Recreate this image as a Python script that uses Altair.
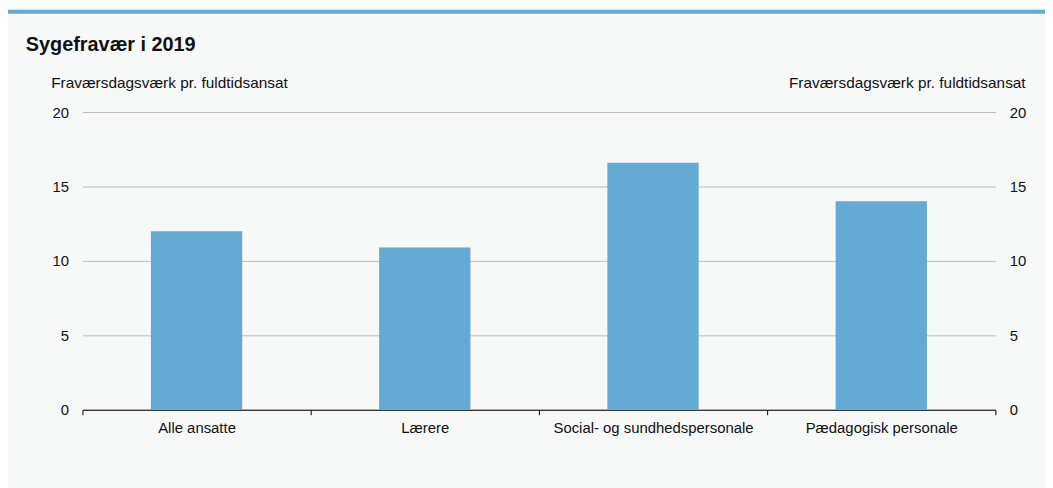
import altair as alt
import pandas as pd

categories = ["Alle ansatte", "Lærere", "Social- og sundhedspersonale", "Pædagogisk personale"]
values = [12.0, 10.9, 16.6, 14.0]
y_ticks = [0, 5, 10, 15, 20]
axis_title = "Fraværsdagsværk pr. fuldtidsansat"
chart_title = "Sygefravær i 2019"

BAR = "#64aad4"
BG = "#f7f8f8"
FONT = "Liberation Sans"

df = pd.DataFrame({"kategori": categories, "vaerdi": values})

x_enc = alt.X(
    "kategori:N",
    sort=categories,
    title=None,
    scale=alt.Scale(paddingInner=0, paddingOuter=0),
    axis=alt.Axis(
        labelAngle=0,
        tickBand="extent",
        tickSize=5,
        tickColor="#000000",
        domainColor="#000000",
        labelFontSize=15,
        labelColor="#111111",
        labelPadding=18,
        labelBaseline="alphabetic",
        labelLimit=400,
        grid=False,
    ),
)

y_scale = alt.Scale(domain=[0, 20], nice=False)

bars = alt.Chart(df).mark_bar(color=BAR, width={"band": 0.4}).encode(
    x=x_enc,
    y=alt.Y(
        "vaerdi:Q",
        scale=y_scale,
        title=axis_title,
        axis=alt.Axis(
            orient="left",
            values=y_ticks,
            domain=False,
            ticks=False,
            labelPadding=14,
            labelFontSize=15,
            labelColor="#111111",
            grid=True,
            gridColor="#bdbdbd",
            gridWidth=1,
            titleAngle=0,
            titleAlign="left",
            titleBaseline="alphabetic",
            titleX=-32,
            titleY=-25,
            titleFontSize=15.5,
            titleFontWeight="normal",
            titleColor="#111111",
        ),
    ),
)

bars_right = alt.Chart(df).mark_bar(opacity=0, width={"band": 0.4}).encode(
    x=alt.X("kategori:N", sort=categories),
    y=alt.Y(
        "vaerdi:Q",
        scale=y_scale,
        title=axis_title,
        axis=alt.Axis(
            orient="right",
            values=y_ticks,
            domain=False,
            ticks=False,
            labelPadding=14,
            labelFontSize=15,
            labelColor="#111111",
            grid=False,
            titleAngle=0,
            titleAlign="right",
            titleBaseline="alphabetic",
            titleX=30,
            titleY=-25,
            titleFontSize=15.5,
            titleFontWeight="normal",
            titleColor="#111111",
        ),
    ),
)

header = alt.Chart(pd.DataFrame({"h": [1]})).mark_rect(color=BAR).encode(
    x=alt.value(-75), x2=alt.value(990), y=alt.value(-103), y2=alt.value(-99)
)

title_mark = alt.Chart(pd.DataFrame({"t": [chart_title]})).mark_text(
    align="left", baseline="alphabetic", fontSize=20, fontWeight="bold",
    color="#111111", font=FONT,
).encode(text="t:N", x=alt.value(-57), y=alt.value(-62))

chart = (
    alt.layer(header, title_mark, bars, bars_right)
    .resolve_axis(y="independent")
    .resolve_scale(y="shared")
    .properties(
        width=920,
        height=300,
        background=BG,
        padding={"left": 75, "top": 103, "right": 50, "bottom": 77},
        autosize=alt.AutoSizeParams(type="none"),
    )
    .configure(font=FONT)
    .configure_view(stroke=None)
)

chart.save("out.html", embed_options={"renderer": "svg", "actions": False})
